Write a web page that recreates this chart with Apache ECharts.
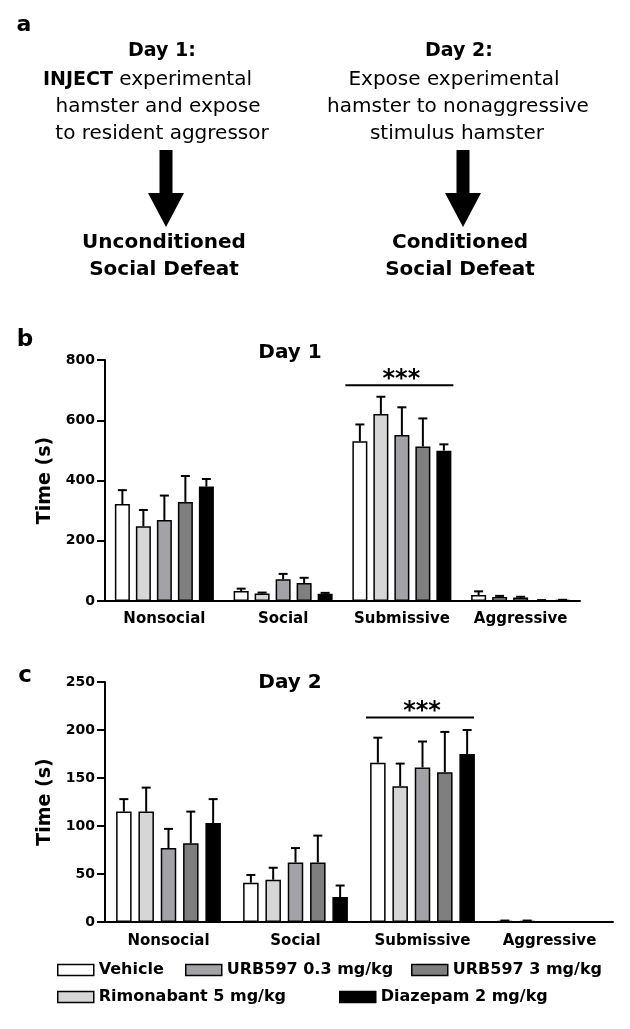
<!DOCTYPE html>
<html><head><meta charset="utf-8">
<script src="https://cdn.jsdelivr.net/npm/echarts@6/dist/echarts.min.js"></script>
<style>html,body{margin:0;padding:0;background:#fff}#c{width:630px;height:1029px}</style>
</head><body><div id="c"></div>
<script>
// ---------- data ----------
const categories = ['Nonsocial', 'Social', 'Submissive', 'Aggressive'];
const groupNames = ['Vehicle', 'Rimonabant 5 mg/kg', 'URB597 0.3 mg/kg', 'URB597 3 mg/kg', 'Diazepam 2 mg/kg'];

// Day 1 means and top of SEM bars
const day1Vehicle      = [322, 33, 530, 20];
const day1Rimonabant   = [248, 25, 621, 13];
const day1Urb03        = [269, 72, 551, 12];
const day1Urb3         = [329, 60, 513, 2];
const day1Diazepam     = [380, 24, 499, 3];
const day1VehicleErr    = [368, 41, 586, 32];
const day1RimonabantErr = [302, 28, 678, 17];
const day1Urb03Err      = [350, 90, 643, 14];
const day1Urb3Err       = [415, 77, 606, 3];
const day1DiazepamErr   = [405, 27, 520, 4];

// Day 2 means and top of SEM bars
const day2Vehicle      = [115, 41, 166, 1];
const day2Rimonabant   = [115, 44, 141.5, 1];
const day2Urb03        = [77, 62, 161, 0];
const day2Urb3         = [82, 62, 156, 0];
const day2Diazepam     = [103, 26, 175, 0];
const day2VehicleErr    = [128, 49, 192, 1.5];
const day2RimonabantErr = [140, 56.5, 165, 1.5];
const day2Urb03Err      = [97, 77, 188, 0];
const day2Urb3Err       = [115, 90, 198, 0];
const day2DiazepamErr   = [128, 38, 200, 0];

const day1Ticks = [0, 200, 400, 600, 800];
const day2Ticks = [0, 50, 100, 150, 200, 250];

const day1SigCategory = 2, day1SigLevel = 716;
const day2SigCategory = 2, day2SigLevel = 213;
const sigLabel = '***';

// ---------- styling ----------
const FONT = 'DejaVu Sans';
const groupColors = ['#ffffff', '#d6d6d6', '#a3a3a7', '#7f7f7f', '#000000'];

const day1Means = [day1Vehicle, day1Rimonabant, day1Urb03, day1Urb3, day1Diazepam];
const day1Tops  = [day1VehicleErr, day1RimonabantErr, day1Urb03Err, day1Urb3Err, day1DiazepamErr];
const day2Means = [day2Vehicle, day2Rimonabant, day2Urb03, day2Urb3, day2Diazepam];
const day2Tops  = [day2VehicleErr, day2RimonabantErr, day2Urb03Err, day2Urb3Err, day2DiazepamErr];

const panels = [
  {grid: {left: 105, top: 360, width: 475, height: 241}, ticks: day1Ticks, means: day1Means, tops: day1Tops,
   barWidth: 15, barGapPct: 0.4, sigCat: day1SigCategory, sigLevel: day1SigLevel, labelMargin: 11},
  {grid: {left: 105, top: 682, width: 508, height: 240}, ticks: day2Ticks, means: day2Means, tops: day2Tops,
   barWidth: 15.5, barGapPct: 0.44, sigCat: day2SigCategory, sigLevel: day2SigLevel, labelMargin: 12}
];

const grids = [], xAxes = [], yAxes = [], series = [];
panels.forEach((p, gi) => {
  grids.push(p.grid);
  xAxes.push({
    type: 'category', gridIndex: gi, data: categories,
    axisLine: {lineStyle: {color: '#000', width: 2}},
    axisTick: {show: false},
    axisLabel: {interval: 0, color: '#000', fontFamily: FONT, fontWeight: 'bold', fontSize: 15, margin: p.labelMargin}
  });
  const t = p.ticks;
  yAxes.push({
    type: 'value', gridIndex: gi, min: t[0], max: t[t.length - 1], interval: t[1] - t[0],
    name: 'Time (s)', nameLocation: 'middle', nameGap: 46, nameRotate: 90,
    nameTextStyle: {color: '#000', fontFamily: FONT, fontWeight: 'bold', fontSize: 19},
    axisLine: {show: true, lineStyle: {color: '#000', width: 2}},
    axisTick: {show: true, length: 8, lineStyle: {color: '#000', width: 2}},
    axisLabel: {color: '#000', fontFamily: FONT, fontWeight: 'bold', fontSize: 14, margin: 10},
    splitLine: {show: false}
  });
  p.means.forEach((vals, s) => {
    series.push({
      type: 'bar', name: groupNames[s], xAxisIndex: gi, yAxisIndex: gi, data: vals,
      barWidth: p.barWidth, barGap: (p.barGapPct * 100) + '%',
      itemStyle: {color: groupColors[s], borderColor: '#000', borderWidth: 1.5},
      emphasis: {disabled: true}, z: 2
    });
  });
  const pitch = p.barWidth * (1 + p.barGapPct);
  const errData = [];
  p.means.forEach((vals, s) => vals.forEach((m, c) => errData.push([c, m, p.tops[s][c], s])));
  series.push({
    type: 'custom', xAxisIndex: gi, yAxisIndex: gi, silent: true, z: 5, data: errData,
    renderItem(params, api) {
      const c = api.value(0), m = api.value(1), top = api.value(2), s = api.value(3);
      if (!(top > m)) return null;
      const p0 = api.coord([c, m]), p1 = api.coord([c, top]);
      const x = p0[0] + (s - 2) * pitch;
      return {type: 'group', children: [
        {type: 'line', shape: {x1: x, y1: p0[1], x2: x, y2: p1[1]}, style: {stroke: '#000', lineWidth: 2}},
        {type: 'line', shape: {x1: x - 4.5, y1: p1[1], x2: x + 4.5, y2: p1[1]}, style: {stroke: '#000', lineWidth: 2}}
      ]};
    }
  });
  series.push({
    type: 'custom', xAxisIndex: gi, yAxisIndex: gi, silent: true, z: 5, data: [[p.sigCat, p.sigLevel]],
    renderItem(params, api) {
      const pt = api.coord([api.value(0), api.value(1)]);
      const cx = pt[0] - 2.5;
      return {type: 'group', children: [
        {type: 'line', shape: {x1: cx - 54, y1: pt[1], x2: cx + 54, y2: pt[1]}, style: {stroke: '#000', lineWidth: 2}},
        {type: 'text', x: cx + 2, y: pt[1] - 6, style: {text: sigLabel, fill: '#000', fontFamily: FONT, fontSize: 24, fontWeight: 'bold',
          align: 'center', verticalAlign: 'middle', textAlign: 'center', textVerticalAlign: 'middle'}}
      ]};
    }
  });
});

// legends: one per item, arranged in two rows as in the figure
const legendSlots = [
  {name: groupNames[0], left: 57, top: 962},
  {name: groupNames[2], left: 185, top: 962},
  {name: groupNames[3], left: 411, top: 962},
  {name: groupNames[1], left: 57, top: 989},
  {name: groupNames[4], left: 339, top: 989}
];
const legends = legendSlots.map(l => ({
  data: [l.name], left: l.left, top: l.top, padding: 0, icon: 'rect', itemWidth: 36, itemHeight: 11,
  itemStyle: {borderColor: '#000', borderWidth: 1.5},
  textStyle: {color: '#000', fontFamily: FONT, fontWeight: 'bold', fontSize: 16},
  selectedMode: false
}));

function txt(text, x, y, size, weight, align) {
  return {type: 'text', x: x, y: y, silent: true, style: {text: text, fill: '#000', fontFamily: FONT, fontSize: size,
    fontWeight: weight || 'normal', align: align || 'center', verticalAlign: 'middle',
    textAlign: align || 'center', textVerticalAlign: 'middle'}};
}
function arrow(cx) {
  return {type: 'polygon', silent: true, shape: {points: [
    [cx - 6.5, 150], [cx + 6.5, 150], [cx + 6.5, 193], [cx + 18, 193], [cx, 227], [cx - 18, 193], [cx - 6.5, 193]
  ]}, style: {fill: '#000'}};
}

const graphics = [
  txt('a', 24, 25, 22, 'bold'),
  txt('Day 1:', 162, 51, 19, 'bold'),
  {type: 'text', x: 43, y: 80, silent: true, style: {text: '{b|INJECT} experimental', fill: '#000', fontFamily: FONT, fontSize: 20,
    align: 'left', verticalAlign: 'middle', textAlign: 'left', textVerticalAlign: 'middle',
    rich: {b: {fontWeight: 'bold', fontFamily: FONT, fontSize: 19, fill: '#000'}}}},
  txt('hamster and expose', 158, 107, 20),
  txt('to resident aggressor', 162, 134, 20),
  arrow(166),
  txt('Unconditioned', 164, 243, 20, 'bold'),
  txt('Social Defeat', 164, 270, 20, 'bold'),
  txt('Day 2:', 459, 51, 19, 'bold'),
  txt('Expose experimental', 454, 80, 20),
  txt('hamster to nonaggressive', 458, 107, 20),
  txt('stimulus hamster', 457, 134, 20),
  arrow(463),
  txt('Conditioned', 460, 243, 20, 'bold'),
  txt('Social Defeat', 460, 270, 20, 'bold'),
  txt('b', 25, 340, 23, 'bold'),
  txt('Day 1', 290, 353, 20, 'bold'),
  txt('c', 25, 676, 23, 'bold'),
  txt('Day 2', 290, 683, 20, 'bold')
];

const chart = echarts.init(document.getElementById('c'), null, {width: 630, height: 1029});
chart.setOption({
  backgroundColor: '#ffffff',
  animation: false,
  textStyle: {fontFamily: FONT},
  grid: grids, xAxis: xAxes, yAxis: yAxes, series: series,
  legend: legends,
  graphic: graphics
});
</script></body></html>
